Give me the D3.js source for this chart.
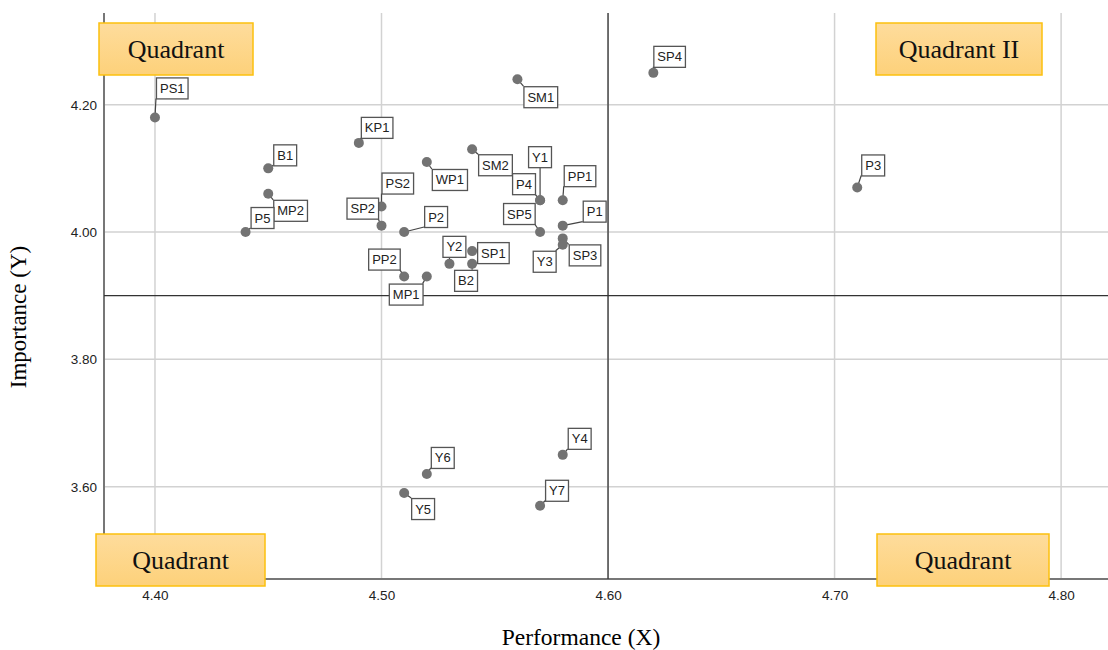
<!DOCTYPE html>
<html><head><meta charset="utf-8">
<script src="https://cdn.jsdelivr.net/npm/d3@7"></script>
<style>body{margin:0;background:#fff}svg{display:block}</style>
</head><body>
<svg id="c" width="1108" height="650"></svg>
<script>
const names = ["PS1","SP4","SM1","KP1","B1","MP2","P5","PS2","SP2","P2","WP1","SM2","Y1","P4","PP1","P1","SP5","SP3","Y3","SP1","Y2","B2","PP2","MP1","P3","Y4","Y6","Y5","Y7"];
const perf = [4.40,4.62,4.56,4.49,4.45,4.45,4.44,4.50,4.50,4.51,4.52,4.54,4.57,4.57,4.58,4.58,4.57,4.58,4.58,4.54,4.53,4.54,4.51,4.52,4.71,4.58,4.52,4.51,4.57];
const imp  = [4.18,4.25,4.24,4.14,4.10,4.06,4.00,4.04,4.01,4.00,4.11,4.13,4.05,4.05,4.05,4.01,4.00,3.99,3.98,3.97,3.95,3.95,3.93,3.93,4.07,3.65,3.62,3.59,3.57];
const xTicks = [4.40,4.50,4.60,4.70,4.80];
const yTicks = [3.60,3.80,4.00,4.20];
const xRef = 4.60, yRef = 3.90;
const quadrantLabels = ["Quadrant","Quadrant II","Quadrant","Quadrant"];

// label box offsets (layout only)
const labelOffsets = {PS1:[1,-40],SP4:[0,-27],SM1:[6,7],KP1:[2,-26],B1:[5,-24],MP2:[5,6],P5:[5,-25],PS2:[0,-34],SP2:[-35,-28],P2:[20,-26],WP1:[5,7],SM2:[6,5],Y1:[-12,-54],P4:[-28,-27],PP1:[1,-35],P1:[20,-25],SP5:[-37,-29],SP3:[6,6],Y3:[-30,6],SP1:[5,-9],Y2:[-7,-28],B2:[-18,6],PP2:[-36,-28],MP1:[-38,7],P3:[4,-33],Y4:[5,-27],Y6:[4,-27],Y5:[7,5],Y7:[5,-26]};
const quadBoxes = [[99,23,154,52],[876,23,166,52],[96,534,169,52],[877,534,172,52]];

const svg = d3.select("#c");
const x = d3.scaleLinear().domain([4.3775,4.8207]).range([104,1108]);
const y = d3.scaleLinear().domain([3.455,4.344]).range([579,13]);

const defs = svg.append("defs");
const g1 = defs.append("linearGradient").attr("id","qg").attr("x1",0).attr("y1",0).attr("x2",0).attr("y2",1);
g1.append("stop").attr("offset","0%").attr("stop-color","#fedc9c");
g1.append("stop").attr("offset","100%").attr("stop-color","#fdd17a");

// gridlines
svg.append("g").selectAll("line").data(xTicks).join("line")
  .attr("x1",d=>x(d)).attr("x2",d=>x(d)).attr("y1",13).attr("y2",579)
  .attr("stroke","#d2d2d2").attr("stroke-width",1.5);
svg.append("g").selectAll("line").data(yTicks).join("line")
  .attr("x1",104).attr("x2",1108).attr("y1",d=>y(d)).attr("y2",d=>y(d))
  .attr("stroke","#d2d2d2").attr("stroke-width",1.5);

// axes
const xAxis = svg.append("g").attr("transform","translate(0,579)")
  .call(d3.axisBottom(x).tickValues(xTicks).tickFormat(d3.format(".2f")).tickSize(0).tickPadding(11));
const yAxis = svg.append("g").attr("transform","translate(104,0)")
  .call(d3.axisLeft(y).tickValues(yTicks).tickFormat(d3.format(".2f")).tickSize(0).tickPadding(7));
[xAxis,yAxis].forEach(a=>{
  a.select(".domain").attr("stroke","#777").attr("stroke-width",2);
  a.selectAll("text").attr("font-family","Liberation Sans, Arial, sans-serif").attr("font-size",13.5).attr("fill","#222");
});
xAxis.select(".domain").attr("d","M104,0H1108");
yAxis.select(".domain").attr("d","M0,13V579");

// reference lines
svg.append("line").attr("x1",x(xRef)).attr("x2",x(xRef)).attr("y1",13).attr("y2",579).attr("stroke","#333").attr("stroke-width",1.3);
svg.append("line").attr("x1",104).attr("x2",1108).attr("y1",y(yRef)).attr("y2",y(yRef)).attr("stroke","#333").attr("stroke-width",1.3);

// axis titles
svg.append("text").attr("x",581).attr("y",645).attr("text-anchor","middle")
  .attr("font-family","Liberation Serif, Times New Roman, serif").attr("font-size",23.5).text("Performance (X)");
svg.append("text").attr("transform","translate(26,317) rotate(-90)").attr("text-anchor","middle")
  .attr("font-family","Liberation Serif, Times New Roman, serif").attr("font-size",23).text("Importance (Y)");

// points + labels
const data = names.map((n,i)=>({n, px:x(perf[i]), py:y(imp[i])}));
const lineG = svg.append("g");
const dotG = svg.append("g");
const boxG = svg.append("g");
data.forEach(d=>{
  const off = labelOffsets[d.n];
  const bx = d.px+off[0], by = d.py+off[1];
  const t = boxG.append("text").attr("font-family","Liberation Sans, Arial, sans-serif").attr("font-size",13).attr("fill","#222").text(d.n);
  const w = t.node().getComputedTextLength()+7, h = 21;
  d.box=[bx,by,w,h]; d.t=t;
});
data.forEach(d=>{
  const [bx,by,w,h]=d.box;
  const cx = Math.max(bx,Math.min(bx+w,d.px)), cy = Math.max(by,Math.min(by+h,d.py));
  lineG.append("line").attr("x1",d.px).attr("y1",d.py).attr("x2",cx).attr("y2",cy).attr("stroke","#444").attr("stroke-width",1.2);
});
dotG.selectAll("circle").data(data).join("circle").attr("cx",d=>d.px).attr("cy",d=>d.py).attr("r",5).attr("fill","#737373");
data.forEach(d=>{
  const [bx,by,w,h]=d.box;
  boxG.append("rect").attr("x",bx+0.5).attr("y",by+0.5).attr("width",w).attr("height",h).attr("fill","#fff").attr("stroke","#555").attr("stroke-width",1.3);
  d.t.raise().attr("x",bx+0.5+w/2).attr("y",by+15.5).attr("text-anchor","middle");
});

// quadrant boxes
const qg = svg.append("g");
quadBoxes.forEach((b,i)=>{
  qg.append("rect").attr("x",b[0]).attr("y",b[1]).attr("width",b[2]).attr("height",b[3]).attr("fill","url(#qg)").attr("stroke","#fcc00e").attr("stroke-width",1.5);
  qg.append("text").attr("x",b[0]+b[2]/2).attr("y",b[1]+b[3]/2+9).attr("text-anchor","middle")
    .attr("font-family","Liberation Serif, Times New Roman, serif").attr("font-size",26).attr("fill","#111").text(quadrantLabels[i]);
});
</script>
</body></html>
